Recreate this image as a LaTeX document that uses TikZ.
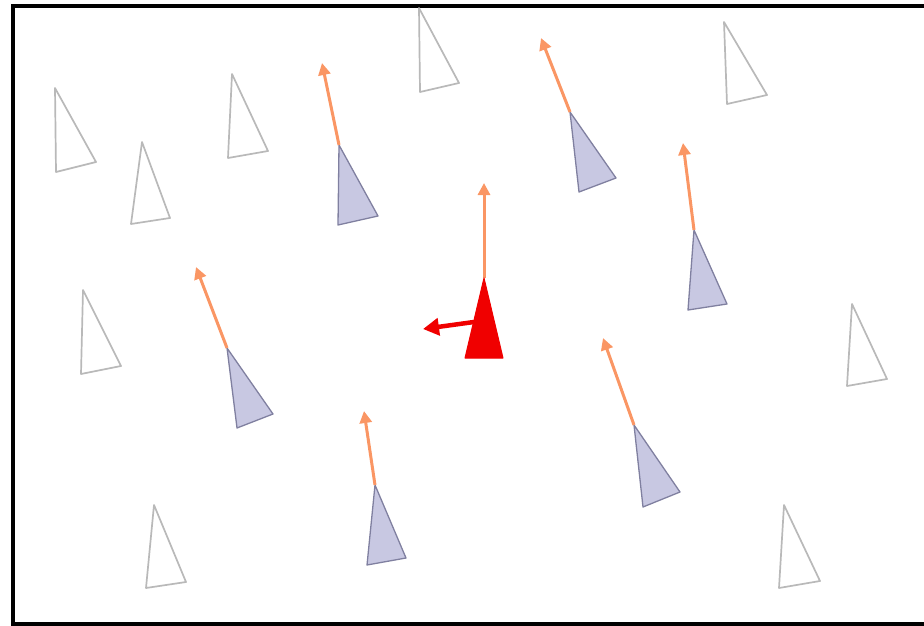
\documentclass[tikz,border=0pt]{standalone}
\usetikzlibrary{arrows.meta}
\definecolor{agentfill}{RGB}{200,200,226}
\definecolor{agentdraw}{RGB}{128,128,160}
\definecolor{velo}{RGB}{250,150,100}
\definecolor{focal}{RGB}{240,0,0}
\definecolor{ghost}{RGB}{185,185,185}
\tikzset{
  far/.style={draw=ghost,line width=1.7pt,line join=round,fill=white},
  near/.style={draw=agentdraw,line width=1.3pt,line join=round,fill=agentfill},
  me/.style={draw=focal,line width=1pt,line join=round,fill=focal},
  vel/.style={draw=velo,line width=3pt,-{Triangle[length=12pt,width=12pt]}},
  turn/.style={draw=focal,line width=4.5pt,-{Triangle[length=16pt,width=17pt]}},
  frame/.style={draw=black,line width=3.6pt}
}
\begin{document}
\begin{tikzpicture}[x=1pt,y=-1pt]
\useasboundingbox (0,0) rectangle (924,626);
\draw[frame] (930,6) -- (13,6) -- (13,624) -- (930,624);
% ghost (out of range) agents
\draw[far] (55,88) -- (56,172) -- (96,162) -- cycle;
\draw[far] (142,142) -- (131,224) -- (170,218) -- cycle;
\draw[far] (232,74) -- (228,158) -- (268,151) -- cycle;
\draw[far] (419,8) -- (420,92) -- (459,83) -- cycle;
\draw[far] (724,22) -- (727,104) -- (767,95) -- cycle;
\draw[far] (83,290) -- (81,374) -- (121,366) -- cycle;
\draw[far] (852,304) -- (847,386) -- (887,379) -- cycle;
\draw[far] (154,505) -- (146,588) -- (186,582) -- cycle;
\draw[far] (784,505) -- (779,588) -- (820,581) -- cycle;
% neighbours
\coordinate (a) at (339,145); \coordinate (ta) at (322,63);
\coordinate (b) at (570,112); \coordinate (tb) at (541,38);
\coordinate (c) at (694,230); \coordinate (tc) at (683,143);
\coordinate (d) at (227,348); \coordinate (td) at (196,267);
\coordinate (e) at (634,425); \coordinate (te) at (603,338);
\coordinate (f) at (375,485); \coordinate (tf) at (364,411);
\draw[near] (a) -- (338,225) -- (378,216) -- cycle;
\draw[near] (b) -- (579,192) -- (616,178) -- cycle;
\draw[near] (c) -- (688,310) -- (727,304) -- cycle;
\draw[near] (d) -- (237,428) -- (273,414) -- cycle;
\draw[near] (e) -- (643,507) -- (680,492) -- cycle;
\draw[near] (f) -- (367,565) -- (406,558) -- cycle;
\draw[vel] (a) -- (ta);
\draw[vel] (b) -- (tb);
\draw[vel] (c) -- (tc);
\draw[vel] (d) -- (td);
\draw[vel] (e) -- (te);
\draw[vel] (f) -- (tf);
% focal agent
\coordinate (m) at (484,278); \coordinate (tm) at (484,183);
\coordinate (ms) at (474,322); \coordinate (mt) at (423,329);
\draw[vel] (m) -- (tm);
\draw[me] (m) -- (465,358) -- (503,358) -- cycle;
\draw[turn] (ms) -- (mt);
\end{tikzpicture}
\end{document}
